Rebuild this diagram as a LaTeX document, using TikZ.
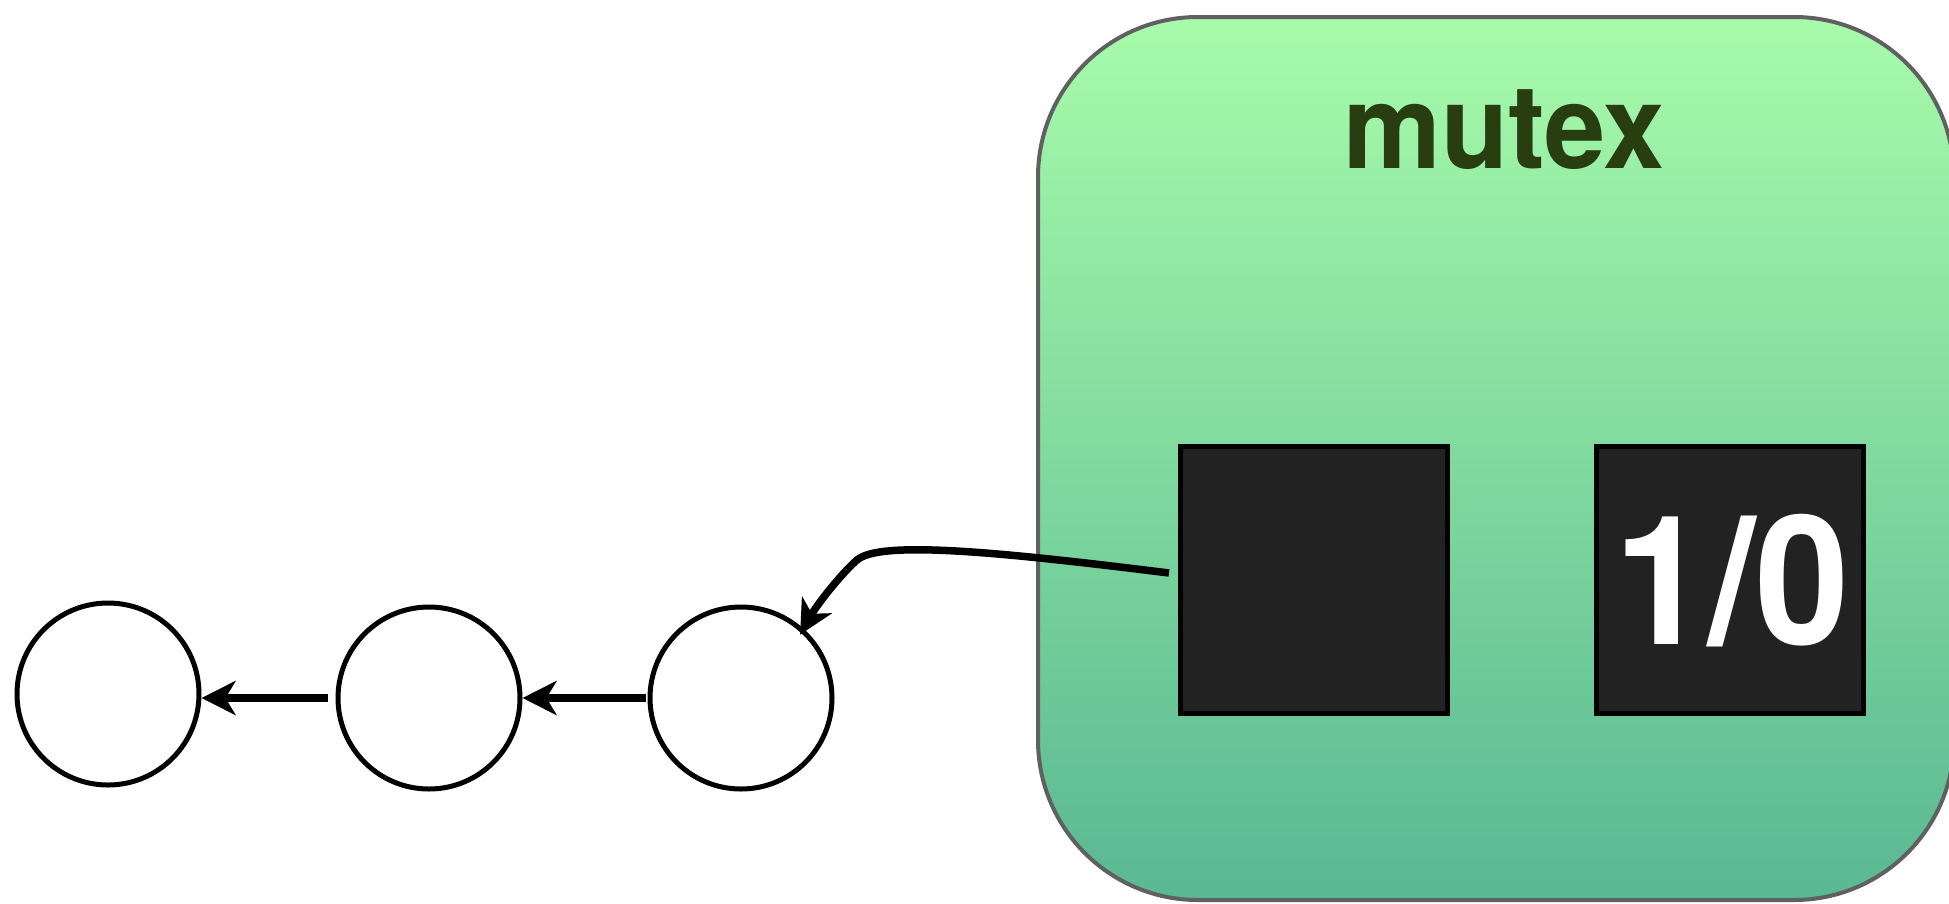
\documentclass[tikz,border=0pt]{standalone}
\usepackage{fontspec}
\setmainfont{TeX Gyre Heros}
\newfontfamily\labfont{TeX Gyre Heros}[FakeStretch=0.94]
\usetikzlibrary{arrows.meta}
\definecolor{boxtop}{RGB}{167,251,170}
\definecolor{boxmid}{RGB}{128,221,157}
\definecolor{boxbot}{RGB}{90,184,147}
\definecolor{boxedge}{RGB}{96,96,96}
\definecolor{titlecol}{RGB}{40,61,16}
\definecolor{cellfill}{RGB}{34,34,34}
\tikzset{
  listnode/.style={circle, draw=black, line width=5pt, minimum size=182pt, inner sep=0pt, fill=white},
  cellbox/.style={rectangle, draw=black, fill=cellfill, line width=5pt, minimum width=267pt, minimum height=267pt, inner sep=0pt},
  arr/.style={line width=8pt, -{Stealth[length=34pt, width=34pt, inset=10pt]}},
}
\begin{document}
\begin{tikzpicture}[x=1pt, y=-1pt]
\useasboundingbox (0,0) rectangle (1949,903);
\node[draw=boxedge, line width=4pt, rounded corners=160pt, top color=boxtop, middle color=boxmid, bottom color=boxbot,
  minimum width=916pt, minimum height=883pt, inner sep=0pt] (mutexbox) at (1496,458.5) {};
\node[anchor=base, text=titlecol, font=\labfont\bfseries\fontsize{117}{117}\selectfont, inner sep=0pt] (title) at (1504,168) {mutex};
\node[cellbox] (box1) at (1314,580) {};
\node[cellbox] (box2) at (1730,580) {};
\node[anchor=base, text=white, font=\labfont\bfseries\fontsize{180}{180}\selectfont, inner sep=0pt] (val) at (1732,644) {1/0};
\node[listnode] (c1) at (108,694) {};
\node[listnode] (c2) at (429,698) {};
\node[listnode] (c3) at (741,698) {};
\coordinate (s) at (1169,573);
\draw[arr, shorten <=8pt] (c2.west) -- (c2.west -| c1.east);
\draw[arr, shorten <=2pt] (c3.west) -- (c3.west -| c2.east);
\draw[arr, line width=7.5pt, shorten >=-7pt] (s) .. controls (1000,552) and (880,540) .. (857,560) .. controls (842,573) and (818,603) .. (c3.48);
\end{tikzpicture}
\end{document}
